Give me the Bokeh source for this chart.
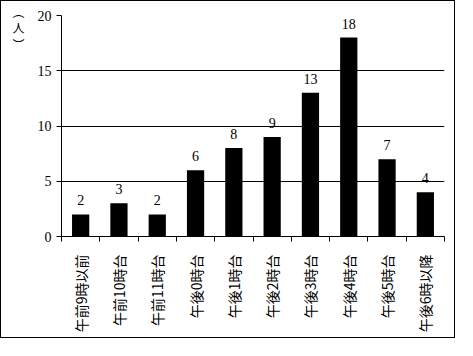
import math
from bokeh.plotting import figure
from bokeh.models import Range1d, FixedTicker, LinearAxis, ColumnDataSource
from bokeh.core.properties import value
from bokeh.embed import file_html
from bokeh.resources import INLINE

categories = ["午前9時以前", "午前10時台", "午前11時台", "午後0時台", "午後1時台",
              "午後2時台", "午後3時台", "午後4時台", "午後5時台", "午後6時以降"]
counts = [2, 3, 2, 6, 8, 9, 13, 18, 7, 4]
y_ticks = [0, 5, 10, 15, 20]
y_title = ["︵", "人", "︶"]

n = len(categories)
centers = [i + 0.5 for i in range(n)]
bounds = list(range(n + 1))

src = ColumnDataSource(dict(x=centers, y=counts, lab=[str(v) for v in counts]))

p = figure(width=455, height=338, output_backend="svg", toolbar_location=None,
           x_range=Range1d(0, n), y_range=Range1d(0, 20),
           min_border_left=60, min_border_right=12, min_border_top=14, min_border_bottom=103)
p.styles = {"border": "1px solid black"}
p.outline_line_color = None
p.background_fill_color = "white"
p.border_fill_color = "white"

p.vbar(x="x", top="y", width=0.45, bottom=0, source=src, fill_color="black", line_color=None)
p.text(x="x", y="y", text="lab", source=src, y_offset=-9, text_align="center",
       text_baseline="bottom", text_font=value("Liberation Serif"), text_font_size="14px",
       text_color="black")

# x axis
xa = p.xaxis[0]
xa.ticker = FixedTicker(ticks=centers, minor_ticks=bounds)
xa.major_label_overrides = {c: lab for c, lab in zip(centers, categories)}
xa.major_tick_line_color = None
xa.major_tick_out = 0
xa.major_tick_in = 0
xa.minor_tick_line_color = "black"
xa.minor_tick_out = 5
xa.minor_tick_in = 0
xa.major_label_orientation = math.pi / 2
xa.major_label_standoff = 13
xa.major_label_text_font = "Noto Sans CJK JP"
xa.major_label_text_font_size = "14px"
xa.major_label_text_color = "black"
xa.axis_line_color = "black"

# y axis
ya = p.yaxis[0]
ya.ticker = FixedTicker(ticks=y_ticks)
ya.major_tick_out = 5
ya.major_tick_in = 0
ya.minor_tick_line_color = None
ya.major_label_standoff = 5
ya.major_label_text_font = "Liberation Serif"
ya.major_label_text_font_size = "14px"
ya.major_label_text_color = "black"
ya.axis_line_color = "black"

# vertical unit label "(人)" as an extra, line-less axis on the left
title_pos = 19.2
ua = LinearAxis(ticker=FixedTicker(ticks=[title_pos]),
                major_label_overrides={title_pos: "\n".join(y_title)})
ua.axis_line_color = None
ua.major_tick_line_color = None
ua.minor_tick_line_color = None
ua.major_tick_out = 0
ua.major_tick_in = 0
ua.major_label_standoff = 10
ua.major_label_text_font = "Noto Sans CJK JP"
ua.major_label_text_font_size = "12px"
ua.major_label_text_line_height = 0.95
ua.major_label_text_align = "center"
ua.major_label_text_color = "black"
p.add_layout(ua, "left")

p.xgrid.grid_line_color = None
p.ygrid.ticker = FixedTicker(ticks=y_ticks)
p.ygrid.grid_line_color = "black"
p.ygrid.grid_line_width = 1

open("out.html", "w").write(file_html(p, INLINE))
